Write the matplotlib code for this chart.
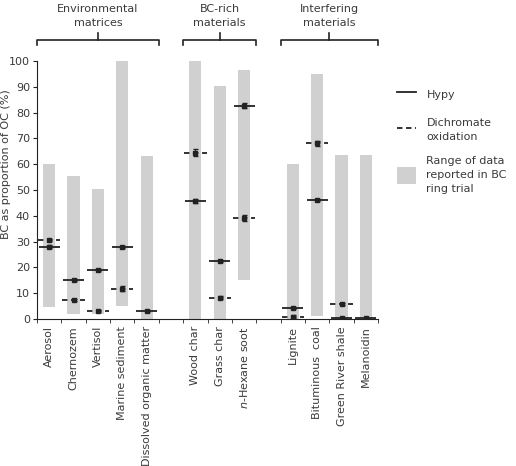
import numpy as np
import matplotlib
matplotlib.use("Agg")
from matplotlib import pyplot as plt
from matplotlib.lines import Line2D
from matplotlib.patches import Patch

# categories and slot positions (gaps between the groups)
cats = ["Aerosol", "Chernozem", "Vertisol", "Marine sediment", "Dissolved organic matter",
        "Wood char", "Grass char", "$\\it{n}$-Hexane soot",
        "Lignite", "Bituminous  coal", "Green River shale", "Melanoidin"]
pos = np.array([0, 1, 2, 3, 4, 6, 7, 8, 10, 11, 12, 13])

# range of data reported in BC ring trial
range_low = np.array([4.5, 2, 2, 5, 0, 0, 0, 15, 0, 1, 0, 0])
range_high = np.array([60, 55.5, 50.5, 100, 63, 100, 90.5, 96.5, 60, 95, 63.5, 63.5])

# hypy and dichromate oxidation results
hypy = np.array([28.0, 15.1, 19.0, 28.0, 3.0, 45.7, 22.5, 82.7, 4.3, 46.3, 0.3, 0.3])
hypy_err = np.array([0.6, 0.4, 0.4, 0.3, 0.4, 0.8, 0.5, 1.0, 0.5, 0.4, 0.2, 0.2])
dichro = np.array([30.6, 7.4, 3.2, 11.7, np.nan, 64.5, 8.3, 39.1, 0.9, 68.1, 5.8, np.nan])
dichro_err = np.array([0.5, 0.5, 0.4, 1.0, 0, 1.3, 0.5, 1.2, 0.5, 1.0, 0.5, 0])

groups = [("Environmental\nmatrices", -0.5, 4.5),
          ("BC-rich\nmaterials", 5.5, 8.5),
          ("Interfering\nmaterials", 9.5, 13.5)]

txt = "#3a3a3a"
dark = "#222222"
grey = "#d0d0d0"
fs = 8
plt.rcParams['font.family'] = ['DejaVu Sans']

fig = plt.figure(figsize=(5.16, 4.66), dpi=100)
ax = fig.add_axes([0.0717, 0.3155, 0.661, 0.5535])

ax.bar(pos, range_high - range_low, bottom=range_low, width=0.5, color=grey, zorder=1)

hw = 0.43
ax.hlines(hypy, pos - hw, pos + hw, color=dark, lw=1.3, zorder=3)
ok = ~np.isnan(dichro)
ax.hlines(dichro[ok], pos[ok] - hw - 0.03, pos[ok] + hw + 0.03, color=dark, lw=1.3,
          linestyles=(0, (3, 2)), zorder=3)
ax.errorbar(pos, hypy, yerr=hypy_err, fmt='s', ms=2.5, color=dark,
            capsize=1.8, elinewidth=0.8, zorder=4)
ax.errorbar(pos[ok], dichro[ok], yerr=dichro_err[ok], fmt='s', ms=2.5, color=dark,
            capsize=1.8, elinewidth=0.8, zorder=4)

ax.set_xlim(-0.5, 13.5)
ax.set_ylim(0, 100)
ax.set_yticks(np.arange(0, 101, 10))
ax.set_xticks(pos)
ax.set_xticklabels(cats, rotation=90, fontsize=fs, color=txt)
ax.set_xticks(np.arange(-0.5, 13.6, 1), minor=True)
ax.tick_params(axis='x', which='major', length=0, pad=5)
ax.tick_params(axis='x', which='minor', length=3, color=dark)
ax.tick_params(axis='y', labelsize=fs, labelcolor=txt, length=3, color=dark, pad=2)
ax.set_ylabel("BC as proportion of OC (%)", fontsize=fs, color=txt, labelpad=3)
ax.yaxis.set_label_coords(-0.075, 0.6)
for s in ['top', 'right']:
    ax.spines[s].set_visible(False)
for s in ['left', 'bottom']:
    ax.spines[s].set_color(dark)

# group brackets above the plot
for name, x0, x1 in groups:
    xm = (x0 + x1) / 2
    ax.plot([x0, x0, x1, x1], [106.2, 108.1, 108.1, 106.2], color=dark, lw=1.2, clip_on=False)
    ax.plot([xm, xm], [108.1, 110.9], color=dark, lw=1.2, clip_on=False)
    ax.text(xm, 113, name, ha='center', va='bottom', fontsize=fs, color=txt,
            linespacing=1.5, clip_on=False)

handles = [Line2D([], [], color=dark, lw=1.3),
           Line2D([], [], color=dark, lw=1.3, linestyle=(0, (3, 2))),
           Patch(facecolor=grey, edgecolor='none')]
labels = ["Hypy", "Dichromate\noxidation", "Range of data\nreported in BC\nring trial"]
leg = fig.legend(handles, labels, loc='upper left', bbox_to_anchor=(0.75, 0.837),
                 frameon=False, fontsize=fs, handlelength=1.75, handleheight=2.0,
                 labelspacing=1.3, handletextpad=0.9)
for t in leg.get_texts():
    t.set_color(txt)
    t.set_linespacing(1.5)

fig.savefig("out.png", dpi=100)
